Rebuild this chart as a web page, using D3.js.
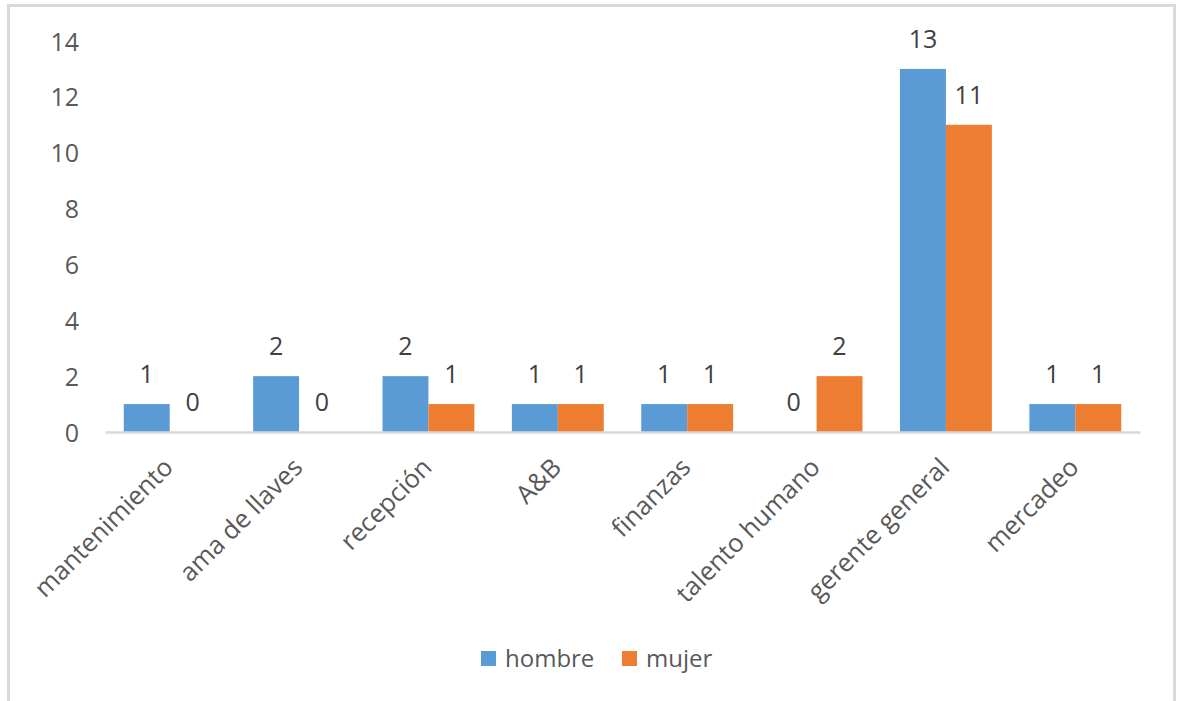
<!DOCTYPE html>
<html>
<head>
<meta charset="utf-8">
<script src="https://cdn.jsdelivr.net/npm/d3@7"></script>
<style>
  html, body { margin: 0; padding: 0; background: #fff; }
  svg { display: block; font-family: "Open Sans", sans-serif; }
</style>
</head>
<body>
<svg id="chart" width="1181" height="701"></svg>
<script>
// Puestos y número de personas por sexo
const categories = ["mantenimiento", "ama de llaves", "recepción", "A&B", "finanzas", "talento humano", "gerente general", "mercadeo"];
const hombre = [1, 2, 2, 1, 1, 0, 13, 1];
const mujer  = [0, 0, 1, 1, 1, 2, 11, 1];
const seriesNames = ["hombre", "mujer"];
const yTicks = [0, 2, 4, 6, 8, 10, 12, 14];

const colors = { hombre: "#5B9BD5", mujer: "#ED7D31" };
const svg = d3.select("#chart");

// chart area frame
svg.append("rect")
  .attr("x", 8.5).attr("y", 5.5)
  .attr("width", 1166).attr("height", 720)
  .attr("fill", "#fff")
  .attr("stroke", "#D9D9D9").attr("stroke-width", 3);

const plot = { left: 105, right: 1140, top: 41, bottom: 432 };

const x = d3.scaleBand()
  .domain(categories)
  .range([plot.left, plot.right])
  .paddingInner(0.29)
  .paddingOuter(0.145);

const xs = d3.scaleBand()
  .domain(seriesNames)
  .range([0, x.bandwidth()]);

const y = d3.scaleLinear()
  .domain([0, 14])
  .range([plot.bottom, plot.top]);

// y axis labels (no line, no ticks)
const yAxis = d3.axisLeft(y).tickValues(yTicks).tickSize(0).tickPadding(0);
const gy = svg.append("g")
  .attr("transform", `translate(79,0)`)
  .call(yAxis);
gy.select(".domain").remove();
gy.selectAll("text")
  .attr("fill", "#595959")
  .attr("font-size", 25)
  .attr("font-family", "Open Sans, sans-serif")
  .attr("dy", "0.36em");

// bars
const rows = categories.map((c, i) => ({ cat: c, values: [
  { key: "hombre", value: hombre[i] },
  { key: "mujer", value: mujer[i] }
]}));

const groups = svg.append("g").selectAll("g")
  .data(rows).join("g")
  .attr("transform", d => `translate(${x(d.cat)},0)`);

groups.selectAll("rect")
  .data(d => d.values).join("rect")
  .attr("x", d => xs(d.key))
  .attr("width", xs.bandwidth())
  .attr("y", d => y(d.value))
  .attr("height", d => y(0) - y(d.value))
  .attr("fill", d => colors[d.key]);

// value labels
groups.selectAll("text")
  .data(d => d.values).join("text")
  .attr("x", d => xs(d.key) + xs.bandwidth() / 2)
  .attr("y", d => y(d.value) - 21)
  .attr("text-anchor", "middle")
  .attr("fill", "#404040")
  .attr("font-size", 25)
  .text(d => d.value);

// x axis baseline and category labels
const xAxis = d3.axisBottom(x).tickSize(0).tickPadding(0);
const gx = svg.append("g")
  .attr("transform", `translate(0,${plot.bottom})`)
  .call(xAxis);
gx.select(".domain")
  .attr("stroke", "#D9D9D9")
  .attr("stroke-width", 2.5);
gx.selectAll(".tick text")
  .attr("fill", "#595959")
  .attr("font-size", 25.5)
  .attr("font-family", "Open Sans, sans-serif")
  .attr("text-anchor", "end")
  .attr("dy", 0)
  .attr("transform", "translate(5,37) rotate(-45)");

// legend
const legend = svg.append("g").attr("transform", "translate(481,651)");
const lx = [0, 141];
seriesNames.forEach((s, i) => {
  const g = legend.append("g").attr("transform", `translate(${lx[i]},0)`);
  g.append("rect").attr("width", 15).attr("height", 15).attr("fill", colors[s]);
  g.append("text")
    .attr("x", 24).attr("y", 16)
    .attr("fill", "#595959")
    .attr("font-size", 24)
    .text(s);
});
</script>
</body>
</html>
